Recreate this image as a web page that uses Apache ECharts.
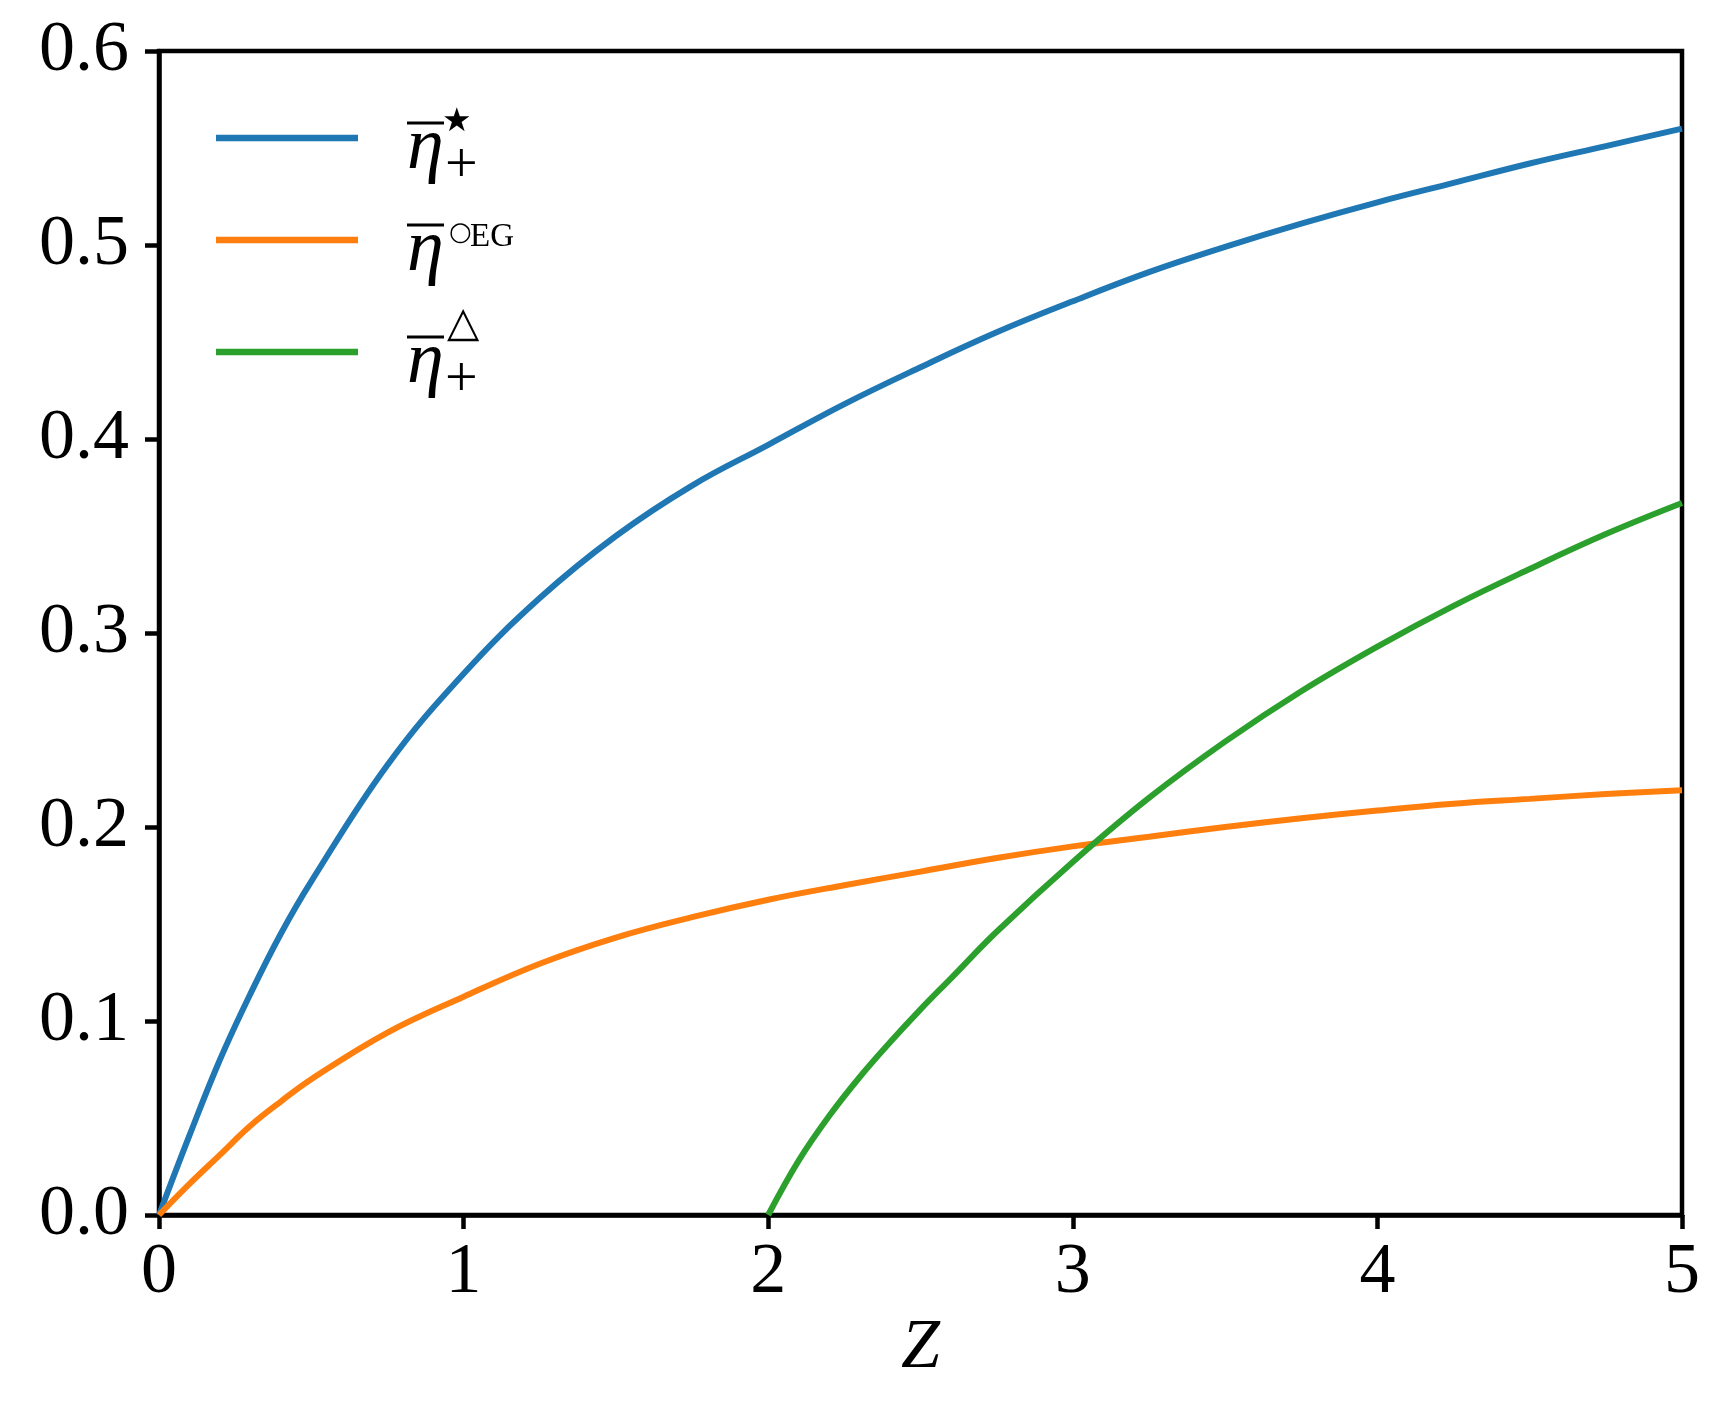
<!DOCTYPE html>
<html>
<head>
<meta charset="utf-8">
<script src="https://cdn.jsdelivr.net/npm/echarts@6/dist/echarts.min.js"></script>
<style>
  html, body { margin: 0; padding: 0; background: #fff; }
  #chart { width: 1719px; height: 1402px; }
</style>
</head>
<body>
<div id="chart"></div>
<script>
// ---- data ----
const zMain = [0, 0.1, 0.2, 0.3, 0.4, 0.5, 0.75, 1.0, 1.25, 1.5, 1.75, 2.0, 2.25, 2.5, 2.75, 3.0, 3.25, 3.5, 3.75, 4.0, 4.25, 4.5, 4.75, 5.0];
const etaStarPlus = [0, 0.041, 0.080, 0.114, 0.145, 0.172, 0.232, 0.279, 0.318, 0.350, 0.376, 0.397, 0.418, 0.437, 0.455, 0.471, 0.486, 0.499, 0.511, 0.522, 0.532, 0.542, 0.551, 0.560];
const etaCircEG   = [0, 0.016, 0.031, 0.046, 0.0585, 0.070, 0.094, 0.1125, 0.1295, 0.143, 0.1535, 0.1625, 0.170, 0.177, 0.184, 0.190, 0.195, 0.200, 0.2045, 0.2085, 0.212, 0.2145, 0.217, 0.219];
const zGreen = [2.0, 2.1, 2.2, 2.3, 2.4, 2.5, 2.6, 2.75, 3.0, 3.25, 3.5, 3.75, 4.0, 4.25, 4.5, 4.75, 5.0];
const etaTrianglePlus = [0, 0.028, 0.051, 0.071, 0.089, 0.106, 0.122, 0.146, 0.182, 0.215, 0.244, 0.270, 0.293, 0.314, 0.333, 0.351, 0.367];
const xTicks = [0, 1, 2, 3, 4, 5];
const yTicks = [0.0, 0.1, 0.2, 0.3, 0.4, 0.5, 0.6];
const seriesNames = ['eta_star_plus', 'eta_circ_EG', 'eta_triangle_plus'];
const colors = ['#1f77b4', '#ff7f0e', '#2ca02c'];

const pairs = (xs, ys) => xs.map((x, i) => [x, ys[i]]);

const chart = echarts.init(document.getElementById('chart'), null, { renderer: 'canvas' });

const serif = '"Liberation Serif", "Times New Roman", serif';
const axisFont = { fontFamily: serif, fontSize: 72, color: '#000' };

// legend built from text (math-like labels)
function legendEntry(i, yLine, sup, sub, supStyle) {
  const els = [];
  els.push({ type: 'line', shape: { x1: 216, y1: yLine, x2: 358, y2: yLine }, style: { stroke: colors[i], lineWidth: 6.5 } });
  const ex = 407;
  els.push({ type: 'text', style: { text: 'η', x: ex, y: yLine + 11, font: 'italic 74px ' + serif, fill: '#000', textAlign: 'left', textVerticalAlign: 'middle' } });
  els.push({ type: 'rect', shape: { x: ex, y: yLine - 16.5, width: 37, height: 3 }, style: { fill: '#000' } });
  if (sup) els.push({ type: 'text', style: Object.assign({ text: sup, fill: '#000', textAlign: 'left', textVerticalAlign: 'middle' }, supStyle) });
  if (sub) els.push({ type: 'text', style: { text: sub, x: 445, y: yLine + 29, font: '58px ' + serif, fill: '#000', textAlign: 'left', textVerticalAlign: 'middle' } });
  return els;
}

const legendEls = []
  .concat(legendEntry(0, 138, '★', '+', { x: 442, y: 122, font: '33px "DejaVu Sans"' }))
  .concat(legendEntry(1, 240, '○', null, { x: 449, y: 233, font: '26px "DejaVu Sans"' }))
  .concat([{ type: 'text', style: { text: 'EG', x: 470, y: 237, font: '33px ' + serif, fill: '#000', textAlign: 'left', textVerticalAlign: 'middle' } }])
  .concat(legendEntry(2, 352, '△', '+', { x: 447, y: 325, font: '42px "DejaVu Sans"' }));

const option = {
  animation: false,
  backgroundColor: '#fff',
  grid: { left: 159, right: 37, top: 51, bottom: 187, show: true, borderColor: '#000', borderWidth: 4.5, backgroundColor: 'transparent', containLabel: false },
  xAxis: {
    type: 'value', min: 0, max: 5, interval: 1,
    name: 'Z', nameLocation: 'middle', nameGap: 80,
    nameTextStyle: { fontFamily: serif, fontStyle: 'italic', fontSize: 70, color: '#000' },
    axisLine: { show: true, lineStyle: { color: '#000', width: 4.5 } },
    axisTick: { show: true, inside: false, length: 14, lineStyle: { color: '#000', width: 4.5 } },
    axisLabel: Object.assign({ margin: 22, formatter: v => xTicks.includes(v) ? String(v) : '' }, axisFont),
    splitLine: { show: false }
  },
  yAxis: {
    type: 'value', min: 0, max: 0.6, interval: 0.1,
    axisLine: { show: true, lineStyle: { color: '#000', width: 4.5 } },
    axisTick: { show: true, inside: false, length: 14, lineStyle: { color: '#000', width: 4.5 } },
    axisLabel: Object.assign({ margin: 30, formatter: v => { const t = yTicks.find(t => Math.abs(t - v) < 1e-9); return t === undefined ? '' : t.toFixed(1); } }, axisFont),
    splitLine: { show: false }
  },
  legend: { show: false },
  graphic: legendEls,
  series: [
    { name: seriesNames[0], type: 'line', data: pairs(zMain, etaStarPlus), smooth: 0.4, showSymbol: false, lineStyle: { color: colors[0], width: 6 }, itemStyle: { color: colors[0] } },
    { name: seriesNames[1], type: 'line', data: pairs(zMain, etaCircEG), smooth: 0.4, showSymbol: false, lineStyle: { color: colors[1], width: 6 }, itemStyle: { color: colors[1] } },
    { name: seriesNames[2], type: 'line', data: pairs(zGreen, etaTrianglePlus), smooth: 0.4, showSymbol: false, lineStyle: { color: colors[2], width: 6 }, itemStyle: { color: colors[2] } }
  ]
};
chart.setOption(option);
</script>
</body>
</html>
